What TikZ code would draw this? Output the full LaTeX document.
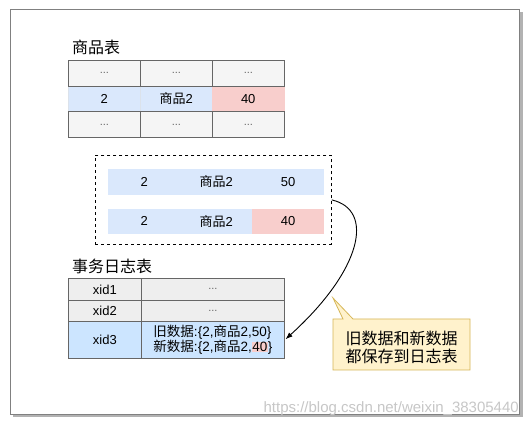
\documentclass[tikz,border=0pt]{standalone}
\usepackage{fontspec}
\setmainfont{Liberation Sans}
\newfontfamily\cjk{Noto Sans CJK SC}
\usetikzlibrary{arrows.meta}

\definecolor{cellgray}{HTML}{F5F5F5}
\definecolor{cellblue}{HTML}{DAE8FC}
\definecolor{cellred}{HTML}{F8CECC}
\definecolor{linegray}{HTML}{666666}
\definecolor{loggray}{HTML}{EEEEEE}
\definecolor{logblue}{HTML}{CCE5FF}
\definecolor{notefill}{HTML}{FFF2CC}
\definecolor{noteline}{HTML}{D6B656}

\begin{document}
\begin{tikzpicture}[
  x=1pt, y=-1pt,
  >=Latex,
  cell/.style={draw=linegray, line width=0.8pt, fill=cellgray, minimum width=72pt,
    minimum height=25.7pt, inner sep=0pt, anchor=north west,
    font=\fontsize{13}{15}\selectfont},
  bluecell/.style={cell, draw=cellblue!80!linegray!60, line width=0.5pt, fill=cellblue},
  redcell/.style={cell, draw=cellred, line width=0.5pt, fill=cellred},
  snapcell/.style={fill=cellblue, minimum width=72pt, minimum height=25.5pt,
    inner sep=0pt, anchor=north west, font=\fontsize{13}{15}\selectfont},
  logcell/.style={draw=linegray, line width=0.8pt, fill=loggray, inner sep=0pt,
    anchor=north west, font=\fontsize{13}{15}\selectfont},
  title/.style={anchor=west, inner sep=0pt, font=\fontsize{16}{18}\selectfont\cjk},
]
\useasboundingbox (0,0) rectangle (531,427);

% --- Rahmen mit Schatten ---
\fill[black!30] (13,12) rectangle (522.5,417.5);
\draw[draw=black!50, line width=0.8pt, fill=white] (10.5,9.5) rectangle (519.5,414.5);

% --- Tabelle: Waren ---
\node[title] (goodsTitle) at (72,47) {商品表};
\node[bluecell] (g21) at (68,85.7) {2};
\node[bluecell] (g22) at (140,85.7) {{\cjk 商品}2};
\node[redcell]  (g23) at (212,85.7) {40};
\foreach \r/\y in {1/60,3/111.4} {
  \foreach \c/\x in {1/68,2/140,3/212} {
    \node[cell] (g\r\c) at (\x,\y) {\textcolor{linegray}{\fontsize{11}{13}\selectfont ...}};
  }
}

% --- Snapshot (gestrichelt) ---
\node[draw, line width=0.8pt, dash pattern=on 3pt off 3pt, minimum width=236pt,
  minimum height=89pt, inner sep=0pt, anchor=north west] (snap) at (95,155) {};
\node[snapcell] (s11) at (108,169) {2};
\node[snapcell] (s12) at (180,169) {{\cjk 商品}2};
\node[snapcell] (s13) at (252,169) {50};
\node[snapcell] (s21) at (108,208.5) {2};
\node[snapcell] (s22) at (180,208.5) {{\cjk 商品}2};
\node[snapcell, fill=cellred] (s23) at (252,208.5) {40};

% --- Transaktionslog ---
\node[title] (logTitle) at (72,266) {事务日志表};
\node[logcell, minimum width=73pt, minimum height=22pt] (l11) at (68,278) {xid1};
\node[logcell, minimum width=143pt, minimum height=22pt] (l12) at (141,278)
  {\textcolor{linegray}{\fontsize{11}{13}\selectfont ...}};
\node[logcell, minimum width=73pt, minimum height=21pt] (l21) at (68,300) {xid2};
\node[logcell, minimum width=143pt, minimum height=21pt] (l22) at (141,300)
  {\textcolor{linegray}{\fontsize{11}{13}\selectfont ...}};
\node[logcell, fill=logblue, minimum width=73pt, minimum height=37pt] (l31) at (68,321) {xid3};
\node[logcell, fill=logblue, minimum width=143pt, minimum height=37pt,
  align=left, font=\fontsize{13.5}{13}\selectfont] (l32) at (141,321)
  {{\cjk 旧数据}:\{2,{\cjk 商品}2,50\}\\
   {\cjk 新数据}:\{2,{\cjk 商品}2,{\setlength{\fboxsep}{0.5pt}\colorbox{cellred}{40}}\}};

% --- Hinweis (Sprechblase) ---
\draw[draw=noteline, line width=0.8pt, fill=notefill]
  (333,319) -- (343,319) -- (333,298) -- (353,319) -- (470,319)
  -- (470,370) -- (333,370) -- cycle;
\node[align=center, inner sep=0pt, font=\fontsize{16}{18}\selectfont\cjk] (note)
  at (401.5,347) {旧数据和新数据\\都保存到日志表};

% --- Verbindung Snapshot -> Log ---
\draw[->, line width=0.9pt, shorten >=1pt] (snap.east) .. controls (375,210) and (362,270) .. (l32.east);

% --- Wasserzeichen ---
\node[anchor=base east, inner sep=0pt, text=black!22, font=\fontsize{15}{15}\selectfont]
  (mark) at (519,413) {https://blog.csdn.net/weixin\_38305440};

\end{tikzpicture}
\end{document}
